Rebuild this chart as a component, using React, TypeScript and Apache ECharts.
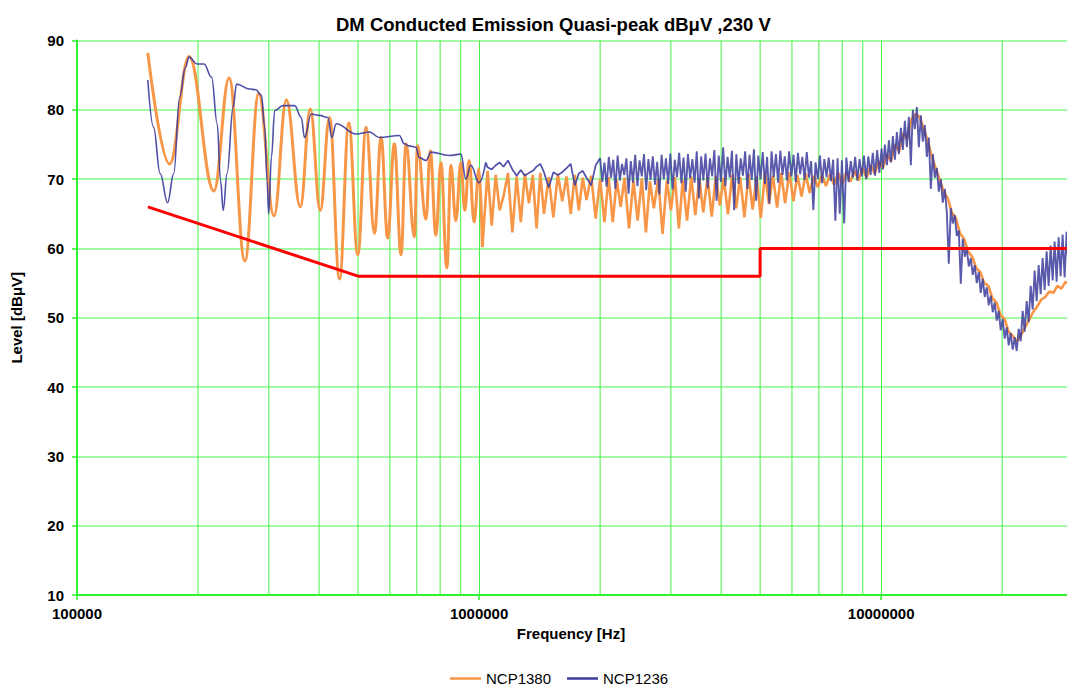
import { useEffect, useRef } from "react";
import * as echarts from "echarts";

// ---- low-frequency part (Hz, dBµV) ----
const orangeLowFreq = [
  150000, 170000, 190000, 219000, 239000, 261500, 283000, 309000, 331700, 359300,
  380300, 402700, 424700, 449700, 474300, 499200, 523800, 549200, 570600, 592500,
  615600, 639600, 658200, 690200, 703100, 737700, 756100, 781000, 803500, 831700,
  850900, 875500, 900900, 921600, 944600, 971900, 1000000, 1019000,
];
const orangeLowLevel = [
  88.2, 72.2, 87.7, 68.3, 84.6, 58.2, 82.3, 64.7, 81.4, 66.0,
  80.1, 65.5, 78.9, 55.6, 78.1, 59.1, 77.5, 62.2, 76.0, 61.5,
  75.1, 59.1, 75.1, 61.7, 74.8, 64.2, 74.1, 61.9, 72.4, 57.2,
  72.0, 64.0, 72.4, 65.5, 72.7, 63.8, 71.5, 60.2,
];
const blueLowFreq = [
  150000, 155000, 161000, 168000, 174000, 180000, 186000, 190000, 199000, 207000,
  216200, 223200, 227500, 231000, 236200, 244500, 249300, 269000, 278300, 287500,
  293000, 296900, 299800, 304500, 310300, 325300, 347700, 361200, 368100, 382500,
  401000, 420600, 430300, 441200, 494800, 533800, 565000, 633300, 651600, 670500,
  696600, 710000, 737800, 759100, 842600, 900900, 927000, 953700, 1000000, 1039000,
];
const blueLowLevel = [
  84.3, 77.5, 70.8, 66.6, 70.8, 81.8, 86.1, 87.6, 86.6, 86.6,
  84.7, 78.0, 69.8, 65.5, 70.8, 80.4, 83.7, 83.0, 82.9, 82.1,
  77.5, 69.8, 65.0, 73.2, 79.9, 80.6, 80.6, 78.9, 76.0, 79.4,
  79.2, 78.9, 76.0, 78.0, 76.5, 76.8, 76.0, 76.3, 75.1, 74.8,
  74.6, 73.1, 72.7, 73.9, 73.4, 73.6, 70.0, 72.0, 69.5, 72.4,
];

// ---- NCP1380 swept part (kHz, dBµV) ----
const sweepKHz = [
  1050, 1075, 1100, 1125, 1150, 1180, 1210, 1240, 1270, 1300,
  1330, 1360, 1390, 1420, 1450, 1490, 1530, 1570, 1610, 1650,
  1690, 1730, 1770, 1810, 1850, 1900, 1950, 2000, 2050, 2100,
  2150, 2200, 2250, 2300, 2360, 2420, 2480, 2540, 2600, 2660,
  2720, 2790, 2860, 2930, 3000, 3070, 3140, 3210, 3290, 3370,
  3450, 3530, 3610, 3700, 3790, 3880, 3970, 4060, 4160, 4260,
  4360, 4460, 4570, 4680, 4790, 4900, 5020, 5140, 5260, 5380,
  5510, 5640, 5770, 5910, 6050, 6190, 6340, 6490, 6640, 6800,
  6960, 7120, 7290, 7460, 7640, 7820, 8000, 8190, 8380, 8580,
  8780, 8990, 9200, 9420, 9640, 9870, 10100, 10340, 10580, 10830,
  11080, 11340, 11610, 11880, 12160, 12450, 12740, 13040, 13350, 13660,
  13980, 14310, 14650, 14990, 15340, 15700, 16070, 16450, 16840, 17230,
  17640, 18050, 18480, 18910, 19360, 19810, 20280, 20750, 21240, 21740,
  22250, 22780, 23310, 23860, 24420, 25000, 25590, 26190, 26810, 27440,
  28080, 28740, 29420, 30000,
];
const orangeSweepLevel = [
  71.2, 63.3, 70.6, 65.5, 67.5, 70.9, 62.3, 70.4, 63.8, 70.8,
  66.5, 70.6, 62.9, 70.9, 65.0, 70.3, 64.5, 70.7, 66.8, 70.4,
  65.0, 70.6, 65.5, 70.2, 67.0, 70.5, 64.3, 70.0, 63.8, 70.3,
  63.8, 69.9, 66.0, 70.2, 62.9, 69.8, 64.0, 70.1, 62.3, 69.7,
  65.8, 70.0, 62.1, 69.8, 65.5, 70.3, 62.9, 69.9, 64.0, 70.4,
  64.8, 70.1, 65.2, 70.3, 64.6, 70.5, 66.2, 70.2, 64.9, 70.6,
  65.8, 70.3, 64.5, 70.7, 65.6, 70.4, 64.4, 70.8, 66.4, 70.5,
  65.9, 70.9, 66.5, 71.0, 66.8, 70.6, 67.5, 70.8, 68.0, 70.5,
  68.8, 70.6, 69.0, 70.7, 69.2, 70.9, 69.3, 71.0, 69.6, 71.2,
  69.8, 71.6, 70.2, 72.0, 70.8, 72.6, 71.6, 73.6, 72.6, 75.0,
  74.0, 76.6, 75.8, 78.6, 79.4, 79.0, 77.4, 75.6, 73.4, 71.6,
  70.0, 68.2, 67.2, 65.2, 64.4, 62.2, 61.4, 59.6, 58.8, 57.2,
  56.6, 55.0, 54.6, 52.8, 52.2, 50.4, 49.8, 48.0, 47.4, 46.6,
  47.4, 48.6, 49.6, 50.8, 51.6, 52.6, 53.0, 53.8, 53.6, 54.6,
  54.2, 55.2, 54.8, 55.6,
];

// ---- NCP1236: 1.05–1.95 MHz (on sweepKHz[0..26]) ----
const blueMidLevel = [
  71.7, 71.4, 72.0, 72.4, 71.8, 72.7, 71.4, 70.5, 71.3, 70.5,
  70.9, 71.2, 71.8, 72.2, 71.0, 68.8, 71.0, 70.6, 71.0, 71.6,
  72.2, 69.1, 70.8, 71.2, 70.2, 69.1, 72.0,
];
// ---- NCP1236: dense band 2–10 MHz (kHz) ----
const blueDenseKHz = [
  2000, 2025, 2050, 2076, 2102, 2129, 2156, 2183, 2211, 2239,
  2267, 2296, 2325, 2354, 2384, 2414, 2445, 2476, 2507, 2539,
  2571, 2604, 2637, 2670, 2704, 2738, 2773, 2808, 2844, 2880,
  2916, 2953, 2990, 3028, 3067, 3106, 3145, 3185, 3225, 3266,
  3307, 3349, 3392, 3435, 3478, 3522, 3567, 3612, 3658, 3704,
  3751, 3799, 3847, 3896, 3945, 3995, 4046, 4097, 4149, 4202,
  4255, 4309, 4363, 4419, 4475, 4531, 4589, 4647, 4706, 4766,
  4826, 4887, 4949, 5012, 5075, 5140, 5205, 5271, 5338, 5405,
  5474, 5543, 5614, 5685, 5757, 5830, 5904, 5979, 6055, 6131,
  6209, 6288, 6367, 6448, 6530, 6613, 6696, 6781, 6867, 6955,
  7043, 7132, 7223, 7314, 7407, 7501, 7596, 7693, 7790, 7889,
  7989, 8091, 8193, 8297, 8402, 8509, 8617, 8726, 8837, 8949,
  9062, 9177, 9294, 9412, 9531, 9652, 9774, 9898, 10024,
];
const blueDenseLevel = [
  73.0, 69.6, 72.4, 68.9, 73.2, 70.2, 72.8, 68.6, 73.4, 69.8,
  72.2, 70.6, 73.0, 67.9, 72.6, 69.5, 73.5, 69.0, 72.7, 70.4,
  73.6, 68.4, 72.9, 69.9, 73.3, 69.2, 72.5, 67.8, 73.5, 70.0,
  73.0, 69.3, 73.7, 68.5, 72.8, 70.3, 73.8, 69.4, 73.1, 68.2,
  73.6, 70.1, 72.9, 69.5, 74.0, 67.2, 73.3, 69.8, 73.7, 68.7,
  73.0, 70.4, 74.2, 66.9, 73.4, 69.6, 74.6, 69.0, 73.2, 70.2,
  74.1, 65.5, 73.6, 69.3, 73.0, 70.5, 74.0, 68.6, 73.5, 69.9,
  74.3, 66.9, 73.4, 70.0, 73.9, 69.3, 73.2, 66.5, 74.0, 70.3,
  73.6, 69.5, 74.1, 70.6, 73.3, 69.8, 74.0, 70.4, 73.5, 69.6,
  73.8, 70.7, 73.2, 69.9, 73.9, 70.2, 72.6, 65.5, 72.4, 70.0,
  73.4, 69.4, 72.9, 70.3, 73.1, 69.7, 72.8, 64.0, 73.0, 65.0,
  72.7, 63.6, 73.1, 69.6, 72.6, 70.2, 73.2, 69.8, 72.9, 70.4,
  73.4, 70.0, 73.3, 70.6, 73.8, 70.5, 74.2, 70.9, 74.4,
];
// ---- NCP1236: dense band 10.1–30 MHz (kHz) ----
const blueHighKHz = [
  10100, 10216, 10334, 10453, 10573, 10695, 10818, 10942, 11068, 11195,
  11324, 11454, 11586, 11719, 11854, 11990, 12128, 12268, 12409, 12552,
  12696, 12842, 12990, 13139, 13290, 13443, 13598, 13754, 13912, 14072,
  14234, 14398, 14564, 14731, 14900, 15072, 15245, 15420, 15598, 15777,
  15959, 16142, 16328, 16516, 16706, 16898, 17092, 17289, 17488, 17689,
  17892, 18098, 18306, 18517, 18730, 18945, 19163, 19383, 19606, 19832,
  20060, 20290, 20524, 20760, 20998, 21240, 21484, 21731, 21981, 22234,
  22489, 22748, 23010, 23274, 23542, 23813, 24087, 24364, 24644, 24927,
  25214, 25504, 25797, 26094, 26394, 26697, 27004, 27315, 27629, 27947,
  28268, 28593, 28922, 29255, 29591, 30000,
];
const blueHighLevel = [
  71.4, 75.0, 72.0, 75.6, 72.4, 76.2, 72.8, 76.8, 73.6, 77.4,
  74.2, 78.4, 74.6, 79.0, 72.0, 80.0, 77.2, 80.4, 74.6, 79.2,
  75.4, 77.8, 73.2, 76.0, 68.6, 73.6, 70.2, 71.6, 68.2, 70.0,
  66.6, 68.6, 65.2, 57.8, 65.8, 63.6, 64.8, 61.8, 62.6, 54.9,
  61.4, 58.8, 60.0, 57.4, 58.6, 56.2, 57.6, 55.0, 56.6, 53.6,
  55.6, 53.0, 54.4, 51.8, 53.2, 50.8, 52.2, 49.6, 51.0, 48.2,
  49.8, 47.0, 48.6, 46.0, 47.8, 45.4, 47.2, 45.2, 48.4, 46.6,
  51.0, 48.0, 52.4, 49.4, 54.6, 51.2, 56.8, 52.4, 57.6, 53.4,
  58.6, 54.0, 59.6, 54.6, 60.4, 55.4, 61.0, 55.2, 61.6, 56.0,
  62.0, 55.8, 62.4, 56.6, 62.6, 57.2,
];

// ---- limit line ----
const limitFreq = [150000, 500000, 5000000, 5000000, 30000000];
const limitLevel = [66, 56, 56, 60, 60];

// ---- axes ----
const yMin = 10;
const yMax = 90;
const yStep = 10;
const xMin = 100000;
const xMax = 30000000;
const minorGridFreq = [
  200000, 300000, 400000, 500000, 600000, 700000, 800000, 900000,
  2000000, 3000000, 4000000, 5000000, 6000000, 7000000, 8000000, 9000000,
  20000000,
];

const seriesNames = ["NCP1380", "NCP1236"];

function pairs(f: number[], v: number[]) {
  return f.map((x, i) => [x, v[i]]);
}
const toHz = (k: number[]) => k.map((x) => x * 1000);

export default function App() {
  const ref = useRef<HTMLDivElement>(null);
  useEffect(() => {
    const chart = echarts.init(ref.current!, null, { renderer: "svg" });
    const sweepHz = toHz(sweepKHz);
    const orangeLow = pairs(orangeLowFreq, orangeLowLevel);
    const blueLow = pairs(blueLowFreq, blueLowLevel);
    const orangeSweep = [orangeLow[orangeLow.length - 1], ...pairs(sweepHz, orangeSweepLevel)];
    const blueMid = pairs(sweepHz.slice(0, blueMidLevel.length), blueMidLevel);
    const blueDense = pairs(toHz(blueDenseKHz), blueDenseLevel);
    const blueHigh = pairs(toHz(blueHighKHz), blueHighLevel);
    const blueA = [blueLow[blueLow.length - 1], ...blueMid, blueDense[0]];
    const blueB = [...blueDense, ...blueHigh];
    const limitData = pairs(limitFreq, limitLevel);
    const gridData: (number | null)[][] = [];
    minorGridFreq.forEach((f) => {
      gridData.push([f, yMin], [f, yMax], [f, null]);
    });
    const green = "#2ef22e";
    const orange = "#F79646";
    const blue = "#3d3d9e";
    const font = "'Liberation Sans', Arial, sans-serif";

    chart.setOption({
      animation: false,
      backgroundColor: "#ffffff",
      textStyle: { fontFamily: font },
      title: {
        text: "DM Conducted Emission Quasi-peak dBμV ,230 V",
        left: 331,
        top: 10,
        textStyle: { fontSize: 18.5, fontWeight: "bold", color: "#000", fontFamily: font },
      },
      legend: {
        data: seriesNames,
        left: 450,
        top: 671,
        padding: 0,
        icon: "rect",
        itemWidth: 31,
        itemHeight: 2.5,
        itemGap: 16,
        textStyle: { fontSize: 15, color: "#000", fontFamily: font },
      },
      grid: { left: 77, right: 1, top: 40.5, bottom: 91 },
      xAxis: {
        type: "log",
        logBase: 10,
        min: xMin,
        max: xMax,
        name: "Frequency [Hz]",
        nameLocation: "middle",
        nameGap: 31,
        nameTextStyle: { fontSize: 15, fontWeight: "bold", color: "#000", padding: [0, 8, 0, 0] },
        axisLine: { show: true, lineStyle: { color: green, width: 2 } },
        axisTick: { show: true, length: 5, lineStyle: { color: green, width: 1.5 } },
        axisLabel: {
          fontSize: 15,
          fontWeight: "bold",
          color: "#000",
          margin: 11,
          formatter: (v: number) => {
            const l = Math.log10(v);
            return Math.abs(l - Math.round(l)) < 1e-6 ? String(Math.round(v)) : "";
          },
        },
        splitLine: { show: true, lineStyle: { color: "#44f044", width: 1 } },
      },
      yAxis: {
        type: "value",
        min: yMin,
        max: yMax,
        interval: yStep,
        name: "Level [dBμV]",
        nameLocation: "middle",
        nameGap: 53,
        nameTextStyle: { fontSize: 15, fontWeight: "bold", color: "#000" },
        axisLine: { show: true, lineStyle: { color: green, width: 2 } },
        axisTick: { show: true, length: 5, lineStyle: { color: green, width: 1.5 } },
        axisLabel: { fontSize: 15, fontWeight: "bold", color: "#000", margin: 13 },
        splitLine: { show: true, lineStyle: { color: "#a3fba3", width: 2 } },
      },
      series: [
        {
          name: "grid",
          type: "line",
          data: gridData,
          symbol: "none",
          silent: true,
          connectNulls: false,
          lineStyle: { color: "#44f044", width: 1 },
          z: 1,
        },
        {
          name: seriesNames[0],
          type: "line",
          data: orangeLow,
          symbol: "none",
          smooth: 0.4,
          smoothMonotone: "x",
          lineStyle: { color: orange, width: 3 },
          itemStyle: { color: orange },
          z: 2,
        },
        {
          name: seriesNames[0],
          type: "line",
          data: orangeSweep,
          symbol: "none",
          lineStyle: { color: orange, width: 2.6 },
          itemStyle: { color: orange },
          z: 2,
        },
        {
          name: seriesNames[1],
          type: "line",
          data: blueLow,
          symbol: "none",
          smooth: 0.4,
          smoothMonotone: "x",
          lineStyle: { color: blue, width: 1.6, opacity: 0.9 },
          itemStyle: { color: blue },
          z: 3,
        },
        {
          name: seriesNames[1],
          type: "line",
          data: blueA,
          symbol: "none",
          lineStyle: { color: blue, width: 1.7, opacity: 0.9 },
          itemStyle: { color: blue },
          z: 3,
        },
        {
          name: seriesNames[1],
          type: "line",
          data: blueB,
          symbol: "none",
          lineStyle: { color: blue, width: 1.9, opacity: 0.85 },
          itemStyle: { color: blue },
          z: 3,
        },
        {
          name: "Limit",
          type: "line",
          data: limitData,
          symbol: "none",
          lineStyle: { color: "#ff0000", width: 3 },
          itemStyle: { color: "#ff0000" },
          z: 4,
        },
      ],
    });
    return () => chart.dispose();
  }, []);
  return (
    <div
      ref={ref}
      style={{ position: "fixed", left: 0, top: 0, width: 1076, height: 686, background: "#fff" }}
    />
  );
}
